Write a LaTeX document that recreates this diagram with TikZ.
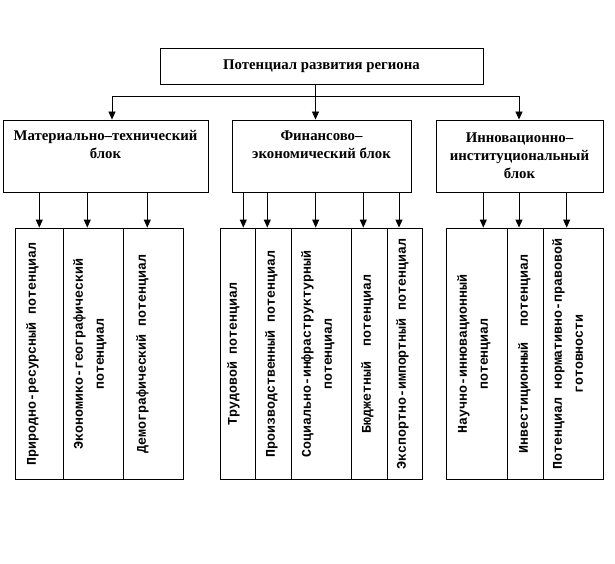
\documentclass[tikz,border=0pt]{standalone}
\usepackage{fontspec}
\setmainfont{Liberation Serif}
\newfontfamily\monofnt{Liberation Mono}
\usetikzlibrary{arrows.meta}
\begin{document}
\begin{tikzpicture}[x=1pt,y=-1pt,
  frame/.style={draw, line width=0.9pt, inner sep=0pt},
  blocktext/.style={font=\bfseries\fontsize{14.8}{18}\selectfont, align=center, inner sep=0pt, anchor=north},
  vtext/.style={font=\monofnt\bfseries\fontsize{13.3}{21}\selectfont, rotate=90, align=center, inner sep=0pt, anchor=north},
  arr/.style={line width=0.9pt, -{Triangle[width=7pt,length=8pt]}},
  ln/.style={line width=0.9pt}]
\useasboundingbox (0,0) rectangle (615,564);
% top
\node[frame, minimum width=323, minimum height=36, font=\bfseries\fontsize{14.8}{18}\selectfont] (top) at (321.5,66) {Потенциал развития региона};
% blocks
\node[frame, minimum width=205, minimum height=72] (b1) at (105.5,156) {};
\node[frame, minimum width=179, minimum height=72] (b2) at (321.5,156) {};
\node[frame, minimum width=167, minimum height=72] (b3) at (519.5,156) {};
\node[blocktext] (b1t) at (105.5,130.5) {Материально–технический\\блок};
\node[blocktext] (b2t) at (321.5,130.5) {Финансово–\\экономический блок};
\node[blocktext] (b3t) at (519.5,132.5) {Инновационно–\\институциональный\\блок};
% columns
\node[frame, minimum width=47.5, minimum height=251] (c11) at (39.5,353.5) {};
\node[frame, minimum width=60, minimum height=251] (c12) at (93.3,353.5) {};
\node[frame, minimum width=60, minimum height=251] (c13) at (153.3,353.5) {};
\node[frame, minimum width=35.7, minimum height=251] (c21) at (237.9,353.5) {};
\node[frame, minimum width=35.3, minimum height=251] (c22) at (273.4,353.5) {};
\node[frame, minimum width=60.7, minimum height=251] (c23) at (321.4,353.5) {};
\node[frame, minimum width=36, minimum height=251] (c24) at (369.7,353.5) {};
\node[frame, minimum width=34.6, minimum height=251] (c25) at (405,353.5) {};
\node[frame, minimum width=61, minimum height=251] (c31) at (477.2,353.5) {};
\node[frame, minimum width=35.6, minimum height=251] (c32) at (525.5,353.5) {};
\node[frame, minimum width=60, minimum height=251] (c33) at (573.3,353.5) {};
% column texts
\node[vtext] (t11) at (26,354) {Природно-ресурсный потенциал};
\node[vtext] (t12) at (73,354) {Экономико-географический\\потенциал};
\node[vtext] (t13) at (136,354) {Демографический потенциал};
\node[vtext] (t21) at (227,354) {Трудовой потенциал};
\node[vtext] (t22) at (265,354) {Производственный потенциал};
\node[vtext] (t23) at (301,354) {Социально-инфраструктурный\\потенциал};
\node[vtext] (t24) at (361,354) {Бюджетный~ потенциал};
\node[vtext] (t25) at (396,354) {Экспортно-импортный потенциал};
\node[vtext] (t31) at (457,354) {Научно-инновационный\\потенциал};
\node[vtext] (t32) at (518,354) {Инвестиционный~ потенциал};
\node[vtext] (t33) at (552,354) {Потенциал нормативно-правовой\\готовности};
% top connectors
\coordinate (j1) at (112,96);
\coordinate (j2) at (315.5,96);
\coordinate (j3) at (519,96);
\draw[arr] (top.south -| j2) -- (b2.north -| j2);
\draw[ln] (j1) -- (j3);
\draw[arr] (j1) -- (j1 |- b1.north);
\draw[arr] (j3) -- (j3 |- b3.north);
% block to column connectors
\draw[arr] ([xshift=-0.2pt]c11.north |- b1.south) -- ([xshift=-0.2pt]c11.north);
\draw[arr] ([xshift=-6pt]c12.north |- b1.south) -- ([xshift=-6pt]c12.north);
\draw[arr] ([xshift=-6pt]c13.north |- b1.south) -- ([xshift=-6pt]c13.north);
\draw[arr] ([xshift=5.4pt]c21.north |- b2.south) -- ([xshift=5.4pt]c21.north);
\draw[arr] ([xshift=-6.1pt]c22.north |- b2.south) -- ([xshift=-6.1pt]c22.north);
\draw[arr] ([xshift=-5.7pt]c23.north |- b2.south) -- ([xshift=-5.7pt]c23.north);
\draw[arr] ([xshift=-6.4pt]c24.north |- b2.south) -- ([xshift=-6.4pt]c24.north);
\draw[arr] ([xshift=-6pt]c25.north |- b2.south) -- ([xshift=-6pt]c25.north);
\draw[arr] ([xshift=6.1pt]c31.north |- b3.south) -- ([xshift=6.1pt]c31.north);
\draw[arr] ([xshift=-6.5pt]c32.north |- b3.south) -- ([xshift=-6.5pt]c32.north);
\draw[arr] ([xshift=-6.6pt]c33.north |- b3.south) -- ([xshift=-6.6pt]c33.north);
\end{tikzpicture}
\end{document}
